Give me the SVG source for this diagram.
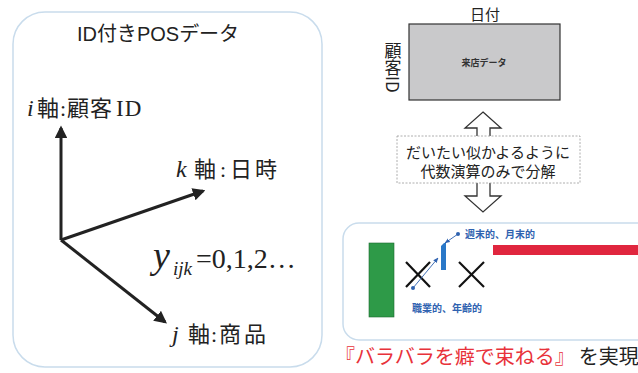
<svg xmlns="http://www.w3.org/2000/svg" width="638" height="373" viewBox="0 0 638 373">
<style>
.cjk{font-family:"Noto Sans CJK JP","Noto Sans",sans-serif}
.ser{font-family:"Liberation Serif","Noto Sans CJK JP",serif}
.sans{font-family:"Liberation Sans","Noto Sans CJK JP",sans-serif}
.panel{fill:#fff;stroke:#c9dcec;stroke-width:1.5}
.ax{stroke:#222;stroke-width:3;fill:none}
.hollow{fill:#fff;stroke:#333;stroke-width:1.3;stroke-linejoin:miter}
.blue{fill:#2f62b0;font-weight:bold}
.xm{stroke:#111;stroke-width:2.2}
.lbl{font-size:22px;fill:#222}
</style>
<defs>
<marker id="ah" viewBox="0 0 10 10" refX="8" refY="5" markerWidth="4.2" markerHeight="4.2" orient="auto" markerUnits="strokeWidth">
<path d="M0,0 L10,5 L0,10 z" fill="#222"/>
</marker>
<marker id="bh" viewBox="0 0 10 10" refX="9" refY="5" markerWidth="6" markerHeight="6" orient="auto" markerUnits="strokeWidth">
<path d="M0,1 L10,5 L0,9 z" fill="#2f62b0"/>
</marker>
</defs>
<rect width="638" height="373" fill="#fff"/>

<g id="left-panel">
<rect class="panel" x="13" y="12" width="309" height="355" rx="32"/>
<text x="158" y="41" font-size="20" text-anchor="middle" class="cjk" fill="#222"><tspan class="sans">ID</tspan>付き<tspan class="sans">POS</tspan>データ</text>
</g>

<g id="connectors">
<line class="ax" x1="61" y1="240" x2="61" y2="128" marker-end="url(#ah)"/>
<line class="ax" x1="61" y1="240" x2="203" y2="191" marker-end="url(#ah)"/>
<line class="ax" x1="61" y1="240" x2="165" y2="322" marker-end="url(#ah)"/>
</g>

<g id="axis-i">
<text y="116" class="lbl"><tspan x="27" class="ser" font-style="italic" font-size="24">i</tspan><tspan x="37" class="cjk">軸</tspan><tspan x="60" class="ser">:</tspan><tspan x="67" class="cjk" letter-spacing="1">顧客</tspan><tspan x="116" class="ser" font-size="23" letter-spacing="1">ID</tspan></text>
</g>
<g id="axis-k">
<text y="177" class="lbl"><tspan x="176" class="ser" font-style="italic" font-size="24">k</tspan><tspan x="194" class="cjk">軸</tspan><tspan x="220" class="ser">:</tspan><tspan x="230" class="cjk" letter-spacing="3">日時</tspan></text>
</g>
<g id="axis-j">
<text y="342" class="lbl"><tspan x="172" class="ser" font-style="italic" font-size="24">j</tspan><tspan x="188" class="cjk">軸</tspan><tspan x="211" class="ser">:</tspan><tspan x="219" class="cjk" letter-spacing="3">商品</tspan></text>
</g>
<g id="formula">
<text y="268" class="ser" fill="#222"><tspan x="153" font-style="italic" font-size="38">y</tspan><tspan x="173" font-style="italic" font-size="19" dy="7">ijk</tspan><tspan x="196" font-size="28" dy="-7">=0,1,2…</tspan></text>
</g>

<g id="matrix">
<text x="485" y="20" font-size="15" text-anchor="middle" class="cjk" fill="#222">日付</text>
<rect x="409" y="24" width="151" height="76" fill="#c9c9cb" stroke="#333" stroke-width="1.2"/>
<text x="484" y="66" font-size="9" font-weight="bold" text-anchor="middle" class="cjk" fill="#333">来店データ</text>
<text x="393" y="42" font-size="17" writing-mode="vertical-rl" class="cjk" fill="#222">顧客ID</text>
</g>

<g id="decompose">
<polygon class="hollow" points="483,112 501,128 490,128 490,140 477,140 477,128 465,128"/>
<polygon class="hollow" points="477,180 490,180 490,196 501,196 483,212 465,196 477,196"/>
<rect x="397" y="136" width="183" height="47" fill="#fff" stroke="#999" stroke-width="0.8" stroke-dasharray="2,1.5"/>
<text x="488" y="158" font-size="15" text-anchor="middle" class="cjk" fill="#222">だいたい似かよるように</text>
<text x="488" y="177" font-size="15" text-anchor="middle" class="cjk" fill="#222">代数演算のみで分解</text>
</g>

<g id="factors">
<rect class="panel" x="343" y="223" width="330" height="117" rx="16"/>
<rect x="369" y="243" width="25" height="74" fill="#2e9a48" stroke="#1d6a30" stroke-width="0.6"/>
<line class="xm" x1="406" y1="262" x2="430" y2="287"/>
<line class="xm" x1="430" y1="262" x2="406" y2="287"/>
<line class="xm" x1="459" y1="262" x2="484" y2="287"/>
<line class="xm" x1="484" y1="262" x2="459" y2="287"/>
<polygon points="441,246 444,243 446,243 446,270 441,270" fill="#2a78c8"/>
<rect x="493" y="245" width="150" height="10" fill="#e0263e"/>
<line x1="413" y1="288" x2="438" y2="258" stroke="#2f62b0" stroke-width="0.9" marker-end="url(#bh)"/>
<circle cx="413" cy="288" r="2" fill="#2f62b0"/>
<line x1="458" y1="234" x2="445" y2="243" stroke="#2f62b0" stroke-width="0.9" marker-end="url(#bh)"/>
<circle cx="458" cy="234" r="2" fill="#2f62b0"/>
<text x="465" y="238" font-size="10" class="cjk blue">週末的、月末的</text>
<text x="412" y="312" font-size="10" class="cjk blue">職業的、年齢的</text>
</g>

<g id="caption">
<text x="335" y="364" font-size="20" class="cjk"><tspan fill="#e8323a">『バラバラを癖で束ねる』</tspan><tspan fill="#222" dx="4">を実現</tspan></text>
</g>
</svg>
